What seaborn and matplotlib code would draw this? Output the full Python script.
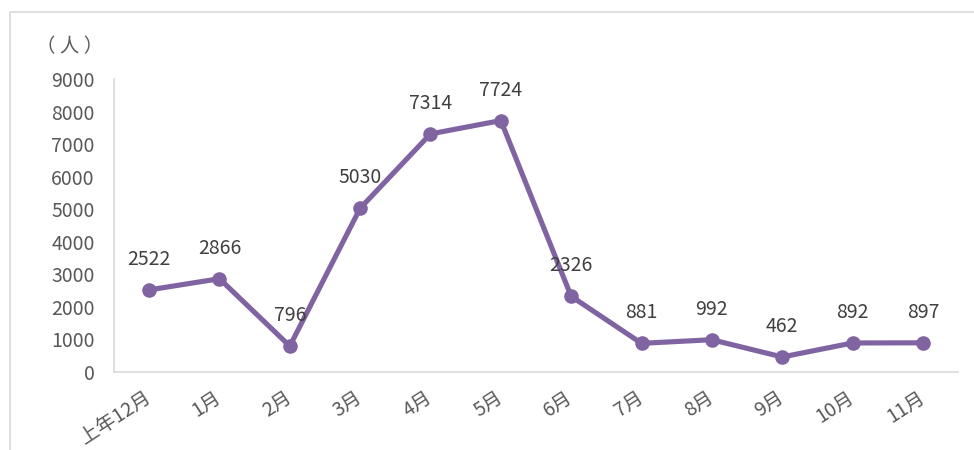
import matplotlib
matplotlib.use("Agg")
import matplotlib.pyplot as plt
import seaborn as sns
import pandas as pd
from matplotlib.patches import Rectangle

months = ['上年12月', '1月', '2月', '3月', '4月', '5月', '6月', '7月', '8月', '9月', '10月', '11月']
people = [2522, 2866, 796, 5030, 7314, 7724, 2326, 881, 992, 462, 892, 897]

sns.set_style('white')
plt.rcParams['font.family'] = ['Noto Sans CJK SC', 'DejaVu Sans']

df = pd.DataFrame({'month': months, 'people': people})
df['pos'] = range(len(months))

purple = '#8064A2'
grey_text = '#595959'

fig = plt.figure(figsize=(9.74, 4.5), dpi=100)
ax = fig.add_axes([0.117, 0.1733, 0.8666, 0.6511])

sns.lineplot(data=df, x='pos', y='people', ax=ax, color=purple, linewidth=3.7,
             marker='o', markersize=10.5, markeredgewidth=0, markeredgecolor=purple)

for x, y in zip(df['pos'], df['people']):
    ax.annotate(str(y), (x, y), xytext=(0, 22), textcoords='offset points',
                ha='center', va='center', fontsize=14, color='#404040')

ax.set_xlim(-0.5, len(months) - 0.5)
ax.set_ylim(0, 9000)
ax.set_yticks(range(0, 9001, 1000))
ax.set_xticks(df['pos'])
ax.set_xticklabels(months, rotation=33, ha='right', va='center', rotation_mode='anchor')
ax.tick_params(axis='y', length=0, pad=14, labelsize=14, labelcolor=grey_text)
ax.tick_params(axis='x', length=0, pad=17, labelsize=14, labelcolor=grey_text)
ax.set_xlabel('')
ax.set_ylabel('')

for side in ['top', 'right']:
    ax.spines[side].set_visible(False)
ax.spines['left'].set_color('#D9D9D9')
ax.spines['bottom'].set_color('#D9D9D9')
ax.spines['left'].set_linewidth(1.2)
ax.spines['bottom'].set_linewidth(1.2)

fig.text(103 / 974, 1 - 47 / 450, '（ 人 ）', ha='right', va='center', fontsize=14, color=grey_text)

fig.patches.append(Rectangle((10 / 974, -0.1), 1.2, 1 - 12 / 450 + 0.1, transform=fig.transFigure,
                             fill=False, edgecolor='#D9D9D9', linewidth=1.2))

fig.savefig('out.png', dpi=100)
